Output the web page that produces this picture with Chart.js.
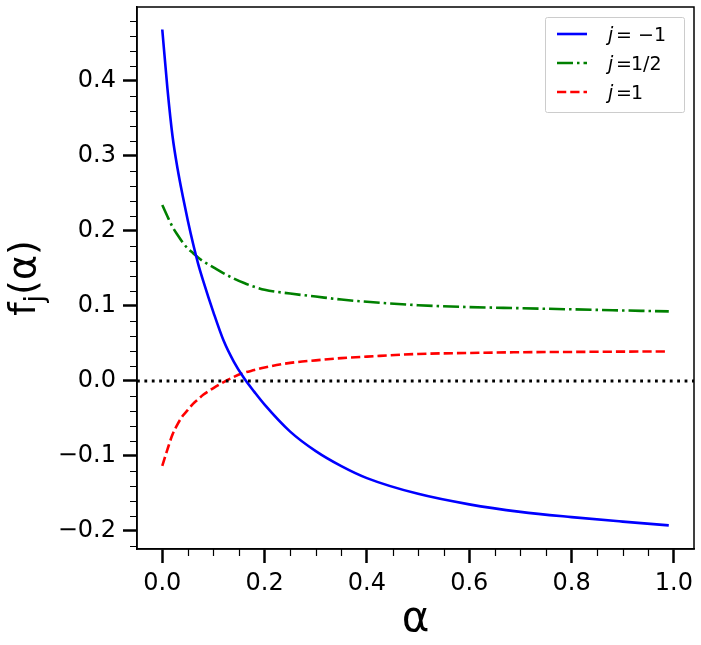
<!DOCTYPE html>
<html>
<head>
<meta charset="utf-8">
<script src="https://cdn.jsdelivr.net/npm/chart.js@4.4.1/dist/chart.umd.min.js"></script>
<style>
html,body{margin:0;padding:0;background:#fff;}
#wrap{width:701px;height:645px;}
</style>
</head>
<body>
<div id="wrap"><canvas id="chart" width="701" height="645"></canvas></div>
<script>
/* DATA */
const alphas = [0,0.01,0.02,0.03,0.04,0.05,0.06,0.07,0.08,0.1,0.12,0.14,0.16,0.18,0.2,0.25,0.3,0.35,0.4,0.5,0.6,0.7,0.8,0.9,0.99];
const fMinusOne = [0.468,0.390,0.326,0.282,0.246,0.213,0.183,0.156,0.133,0.091,0.053,0.025,0.003,-0.015,-0.032,-0.068,-0.094,-0.114,-0.130,-0.151,-0.165,-0.175,-0.182,-0.188,-0.193];
const fHalf = [0.234,0.219,0.205,0.194,0.184,0.176,0.170,0.164,0.159,0.151,0.143,0.136,0.130,0.125,0.121,0.116,0.112,0.108,0.105,0.1005,0.098,0.0965,0.095,0.0935,0.0922];
const fOne = [-0.1136,-0.092,-0.072,-0.058,-0.047,-0.039,-0.031,-0.025,-0.019,-0.010,-0.002,0.005,0.0105,0.014,0.0175,0.0236,0.027,0.030,0.032,0.0355,0.0368,0.0378,0.0382,0.0386,0.0388];
const seriesLabels = ["j = \u22121","j = 1/2","j = 1"];

/* AXES */
const xMin=-0.0494, xMax=1.0393, xMajor=0.2, xMinor=0.05;
const yMin=-0.2245, yMax=0.498, yMajor=0.1, yMinor=0.02;

const font = "'DejaVu Sans', sans-serif";

function pts(vals){
return alphas.map((a,i)=>({x:a,y:vals[i]}));
}

function fmt(v){
return v.toFixed(1).replace("-","\u2212");
}

/* minor ticks, frame, zero line, legend, y title */
const extras = {
id:"extras",
afterDatasetsDraw(chart){
const {ctx,chartArea:a,scales:{y}} = chart;
const py = Math.round(y.getPixelForValue(0));
ctx.save();
ctx.strokeStyle="#000";
ctx.lineWidth=2.8;
ctx.setLineDash([2.8,4.6]);
ctx.beginPath();
ctx.moveTo(a.left,py);
ctx.lineTo(a.right,py);
ctx.stroke();
ctx.restore();
},
afterDraw(chart){
const {ctx,chartArea:a,scales:{x,y}} = chart;
ctx.save();
ctx.strokeStyle="#000";
ctx.lineWidth=1.2;
ctx.beginPath();
const rx=Math.round(xMajor/xMinor);
for(let i=Math.ceil(xMin/xMinor);i<=Math.floor(xMax/xMinor);i++){
if(i%rx===0) continue;
const px=Math.round(x.getPixelForValue(i*xMinor))+0.5;
ctx.moveTo(px,a.bottom);
ctx.lineTo(px,a.bottom+7);
}
const ry=Math.round(yMajor/yMinor);
for(let i=Math.ceil(yMin/yMinor);i<=Math.floor(yMax/yMinor);i++){
if(i%ry===0) continue;
const py=Math.round(y.getPixelForValue(i*yMinor))+0.5;
ctx.moveTo(a.left-7,py);
ctx.lineTo(a.left,py);
}
ctx.stroke();
ctx.lineWidth=1.5;
ctx.strokeRect(a.left,a.top,a.right-a.left,a.bottom-a.top);

/* y title f_j(alpha) */
ctx.fillStyle="#000";
ctx.textBaseline="alphabetic";
ctx.translate(35,(a.top+a.bottom)/2);
ctx.rotate(-Math.PI/2);
ctx.font="38px "+font;
const wf=ctx.measureText("f").width;
const wr=ctx.measureText("(\u03b1)").width;
ctx.font="27px "+font;
const wj=ctx.measureText("j").width;
let sx=-(wf+wj+wr)/2;
ctx.font="38px "+font;
ctx.fillText("f",sx,0);
ctx.font="27px "+font;
ctx.fillText("j",sx+wf,8);
ctx.font="38px "+font;
ctx.fillText("(\u03b1)",sx+wf+wj,0);
ctx.restore();

/* legend */
ctx.save();
const bw=139,bh=95;
const bx=a.right-10-bw,by=a.top+10;
ctx.fillStyle="rgba(255,255,255,0.8)";
ctx.strokeStyle="#cccccc";
ctx.lineWidth=1;
ctx.beginPath();
ctx.roundRect(bx+0.5,by+0.5,bw,bh,2);
ctx.fill();
ctx.stroke();
chart.data.datasets.forEach((ds,i)=>{
const ly=by+17+i*29;
ctx.strokeStyle=ds.borderColor;
ctx.lineWidth=ds.borderWidth;
ctx.setLineDash(ds.borderDash||[]);
ctx.beginPath();
ctx.moveTo(bx+12,ly);
ctx.lineTo(bx+42,ly);
ctx.stroke();
ctx.setLineDash([]);
ctx.fillStyle="#000";
ctx.textBaseline="alphabetic";
ctx.font="oblique 19px "+font;
ctx.fillText(ds.label.charAt(0),bx+63,ly+7);
ctx.font="19px "+font;
ctx.fillText("=",bx+71,ly+7);
const val=ds.label.split("= ")[1];
ctx.fillText(val,bx+(val.charAt(0)==="\u2212"?93:86),ly+7);
});
ctx.restore();
}
};

new Chart(document.getElementById("chart"),{
type:"line",
data:{
datasets:[
{label:seriesLabels[0],data:pts(fMinusOne),borderColor:"#0000ff",borderWidth:2.6},
{label:seriesLabels[1],data:pts(fHalf),borderColor:"#008000",borderWidth:2.6,borderDash:[16,4,2.5,4]},
{label:seriesLabels[2],data:pts(fOne),borderColor:"#ff0000",borderWidth:2.6,borderDash:[9.25,4]}
]
},
options:{
responsive:false,
animation:false,
layout:{padding:{top:7,right:7,left:0,bottom:0}},
elements:{
point:{radius:0},
line:{cubicInterpolationMode:"monotone",fill:false,borderCapStyle:"butt"}
},
plugins:{
legend:{display:false},
tooltip:{enabled:false}
},
scales:{
x:{
type:"linear",
min:xMin,max:xMax,
afterFit(s){s.height=96;s.paddingLeft=0;s.paddingRight=0;},
border:{display:true,color:"#000",width:1.5},
grid:{drawOnChartArea:false,drawTicks:true,tickLength:14,tickWidth:2.5,tickColor:"#000"},
ticks:{stepSize:xMajor,includeBounds:false,autoSkip:false,maxRotation:0,color:"#000",padding:6,
font:{family:font,size:24},callback:v=>fmt(v)},
title:{display:true,text:"\u03b1",color:"#000",font:{family:font,size:42},padding:{top:0,bottom:0}}
},
y:{
type:"linear",
min:yMin,max:yMax,
afterFit(s){s.width=137;s.paddingTop=0;s.paddingBottom=0;},
border:{display:true,color:"#000",width:1.5},
grid:{drawOnChartArea:false,drawTicks:true,tickLength:14,tickWidth:2.5,tickColor:"#000"},
ticks:{stepSize:yMajor,includeBounds:false,autoSkip:false,color:"#000",padding:7,
font:{family:font,size:24},callback:v=>fmt(v)}
}
}
},
plugins:[extras]
});
</script>
</body>
</html>
